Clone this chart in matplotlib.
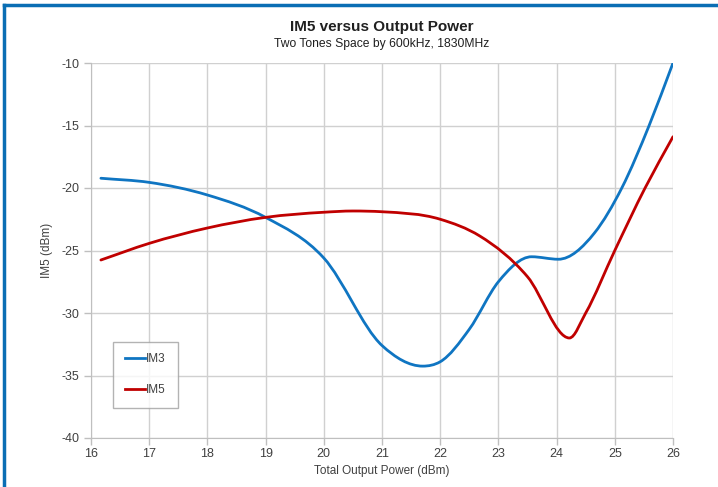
import matplotlib
matplotlib.use('Agg')
import matplotlib.pyplot as plt
from matplotlib.path import Path
from matplotlib.patches import PathPatch
from matplotlib.lines import Line2D
import numpy as np

plt.rcParams['font.family'] = ['Liberation Sans', 'DejaVu Sans']
plt.rcParams['axes.unicode_minus'] = False

# values (dBm)
im3_x = [16.17, 17, 18, 19, 20, 21, 21.7, 22, 22.5, 23, 23.57, 24.03, 24.65, 25.12, 25.59, 26]
im3_y = [-19.22, -19.55, -20.56, -22.35, -25.6, -32.6, -34.25, -33.9, -31.3, -27.5, -25.5, -25.7, -23.6, -20.0, -15.0, -10]

im5_x = [16.17, 17, 18, 19, 20, 20.5, 21, 22, 22.68, 23.5, 24.22, 24.5, 25, 25.52, 26]
im5_y = [-25.76, -24.43, -23.2, -22.35, -21.94, -21.84, -21.9, -22.5, -23.84, -27.1, -32.0, -30.0, -25.0, -20.0, -15.9]

x_ticks = [16, 17, 18, 19, 20, 21, 22, 23, 24, 25, 26]
y_ticks = [-40, -35, -30, -25, -20, -15, -10]

BLUE = '#0F75C2'
RED = '#C00000'


def smooth_path(xs, ys):
  # cubic Bezier pieces through the read points
  x = np.asarray(xs, float)
  y = np.asarray(ys, float)
  h = np.diff(x)
  d = np.diff(y) / h
  n = len(x)
  m = np.zeros(n)
  for i in range(1, n - 1):
    if d[i - 1] * d[i] > 0:
      m[i] = (h[i - 1] * d[i] + h[i] * d[i - 1]) / (h[i - 1] + h[i])
  m[0] = d[0]
  m[-1] = d[-1]
  verts = [(x[0], y[0])]
  codes = [Path.MOVETO]
  for i in range(n - 1):
    verts += [(x[i] + h[i] / 3, y[i] + m[i] * h[i] / 3),
              (x[i + 1] - h[i] / 3, y[i + 1] - m[i + 1] * h[i] / 3),
              (x[i + 1], y[i + 1])]
    codes += [Path.CURVE4] * 3
  return Path(verts, codes)


fig = plt.figure(figsize=(7.18, 4.87), dpi=100)
ax = fig.add_axes([91 / 718, 1 - 438 / 487, 582 / 718, 375 / 487])

for xs, ys, c in [(im3_x, im3_y, BLUE), (im5_x, im5_y, RED)]:
  ax.add_patch(PathPatch(smooth_path(xs, ys), fill=False, edgecolor=c,
                         lw=2.0, capstyle='round', joinstyle='round', zorder=3))

ax.set_xlim(16, 26)
ax.set_ylim(-40, -10)
ax.set_xticks(x_ticks)
ax.set_yticks(y_ticks)
ax.grid(True, color='#D0D0D0', lw=1.0)
ax.set_axisbelow(True)
for s in ['top', 'right']:
  ax.spines[s].set_visible(False)
for s in ['left', 'bottom']:
  ax.spines[s].set_color('#BFBFBF')
ax.tick_params(axis='both', colors='#BFBFBF', labelcolor='#404040',
               labelsize=9, length=5, width=1)
ax.tick_params(axis='x', pad=2)

ax.set_xlabel('Total Output Power (dBm)', fontsize=8.5, color='#404040', labelpad=4)
ax.set_ylabel('IM5 (dBm)', fontsize=8.5, color='#404040', labelpad=6)

fig.text(382 / 718, 1 - 27 / 487, 'IM5 versus Output Power', ha='center', va='center',
         fontsize=11, fontweight='bold', color='#202020')
fig.text(382 / 718, 1 - 44 / 487, 'Two Tones Space by 600kHz, 1830MHz', ha='center',
         va='center', fontsize=8.7, color='#202020')

handles = [Line2D([], [], color=BLUE, lw=2.0), Line2D([], [], color=RED, lw=2.0)]
leg = ax.legend(handles, ['IM3', 'IM5'], loc='lower left',
                bbox_to_anchor=(0.038, 0.08), fontsize=8.5, frameon=True,
                fancybox=False, edgecolor='#A0A0A0', labelspacing=1.6,
                handlelength=1.7, handletextpad=0.1, borderpad=1.0,
                borderaxespad=0)
leg.get_frame().set_linewidth(1.0)
for t in leg.get_texts():
  t.set_color('#404040')

# blue frame on top and left
fig.add_artist(Line2D([4 / 718, 1], [1 - 5 / 487, 1 - 5 / 487], color='#0A6EB4', lw=2.5,
                      transform=fig.transFigure))
fig.add_artist(Line2D([4 / 718, 4 / 718], [0, 1 - 5 / 487], color='#0A6EB4', lw=2.5,
                      transform=fig.transFigure))

fig.savefig('out.png', dpi=100)
